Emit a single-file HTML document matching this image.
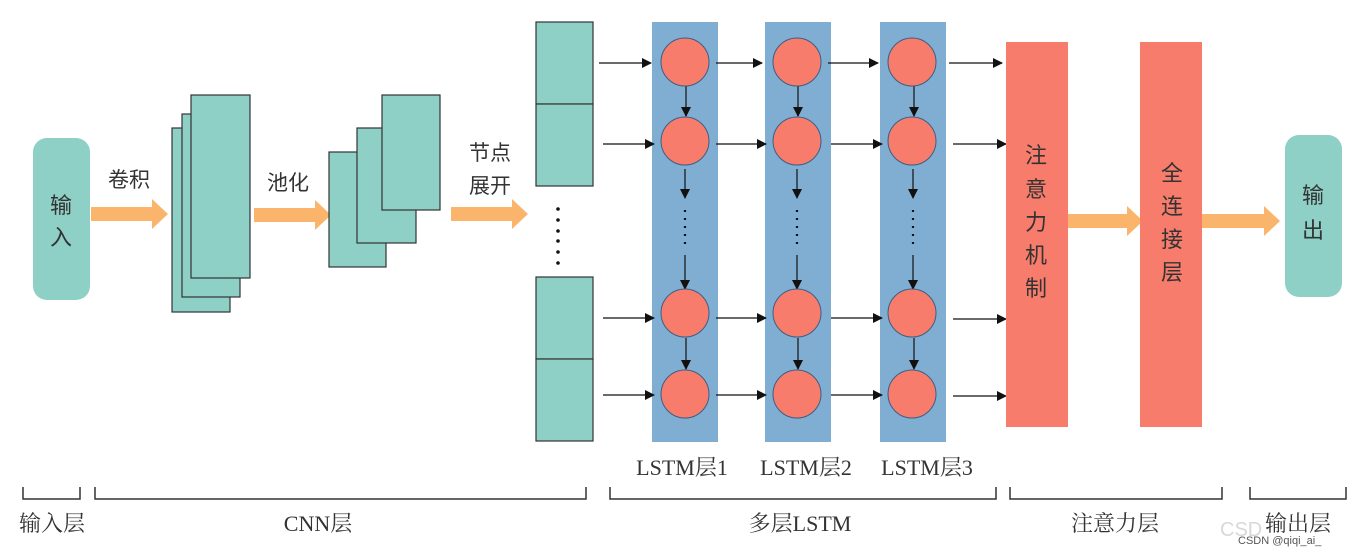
<!DOCTYPE html>
<html><head><meta charset="utf-8"><style>
html,body{margin:0;padding:0;background:#fff;}
svg{display:block;}
.cn{font-family:"Liberation Sans","Noto Sans CJK SC",sans-serif;fill:#333;}
.sf{font-family:"Liberation Serif","Noto Serif CJK SC",serif;fill:#333;}
</style></head><body>
<svg width="1351" height="555" viewBox="0 0 1351 555" xmlns="http://www.w3.org/2000/svg">
<defs>
<marker id="ah" markerWidth="10" markerHeight="10" refX="9" refY="5" orient="auto" markerUnits="userSpaceOnUse"><path d="M0,0 L10,5 L0,10 z" fill="#111"/></marker>
</defs>
<!-- input -->
<rect x="33" y="138" width="57" height="162" rx="14" fill="#8ecfc6"/>
<text class="cn" x="61" y="213" font-size="22" text-anchor="middle">输</text>
<text class="cn" x="61" y="245" font-size="22" text-anchor="middle">入</text>
<!-- orange arrows -->
<g fill="#fbb46c">
<path d="M91,207 H152 V199 L168,214 L152,229 V221 H91 Z"/>
<path d="M254,208 H315 V200 L331,215 L315,230 V222 H254 Z"/>
<path d="M451,207 H512 V199 L528,214 L512,229 V221 H451 Z"/>
<path d="M1068,214 H1127 V206 L1143,221 L1127,236 V228 H1068 Z"/>
<path d="M1202,214 H1264 V206 L1280,221 L1264,236 V228 H1202 Z"/>
</g>
<text class="cn" x="129" y="187" font-size="21" text-anchor="middle">卷积</text>
<text class="cn" x="288" y="190" font-size="21" text-anchor="middle">池化</text>
<text class="cn" x="490" y="160" font-size="21" text-anchor="middle">节点</text>
<text class="cn" x="490" y="193" font-size="21" text-anchor="middle">展开</text>
<!-- conv stack -->
<g fill="#8ecfc6" stroke="#333" stroke-width="1.2">
<rect x="172" y="128" width="58" height="184"/>
<rect x="182" y="114" width="58" height="183"/>
<rect x="191" y="95" width="59" height="183"/>
<rect x="329" y="152" width="57" height="115"/>
<rect x="357" y="128" width="59" height="115"/>
<rect x="382" y="95" width="58" height="115"/>
<!-- flattened -->
<rect x="536" y="22" width="57" height="82"/>
<rect x="536" y="104" width="57" height="82"/>
<rect x="536" y="277" width="57" height="82"/>
<rect x="536" y="359" width="57" height="82"/>
</g>
<g fill="#111">
<circle cx="558" cy="209" r="1.8"/><circle cx="558" cy="220" r="1.8"/><circle cx="558" cy="231" r="1.8"/><circle cx="558" cy="241" r="1.8"/><circle cx="558" cy="252" r="1.8"/><circle cx="558" cy="263" r="1.8"/>
</g>
<!-- LSTM columns -->
<g fill="#80aed3">
<rect x="652" y="22" width="66" height="420"/>
<rect x="765" y="22" width="66" height="420"/>
<rect x="880" y="22" width="66" height="420"/>
</g>
<g stroke="#111" stroke-width="1.2" marker-end="url(#ah)">
<!-- horizontal -->
<line x1="599" y1="63" x2="651" y2="63"/><line x1="716" y1="63" x2="762" y2="63"/><line x1="828" y1="63" x2="878" y2="63"/><line x1="949" y1="63" x2="1002" y2="63"/>
<line x1="603" y1="144" x2="654" y2="144"/><line x1="716" y1="144" x2="766" y2="144"/><line x1="831" y1="144" x2="882" y2="144"/><line x1="953" y1="144" x2="1006" y2="144"/>
<line x1="603" y1="318" x2="654" y2="318"/><line x1="716" y1="318" x2="766" y2="318"/><line x1="831" y1="318" x2="882" y2="318"/><line x1="953" y1="319" x2="1006" y2="319"/>
<line x1="603" y1="395" x2="654" y2="395"/><line x1="716" y1="395" x2="766" y2="395"/><line x1="831" y1="395" x2="882" y2="395"/><line x1="953" y1="396" x2="1006" y2="396"/>
</g>
<g stroke="#111" stroke-width="1.2" marker-end="url(#ah)">
<line x1="686" y1="86" x2="686" y2="116"/><line x1="798" y1="86" x2="798" y2="116"/><line x1="914" y1="86" x2="914" y2="116"/>
<line x1="685" y1="169" x2="685" y2="198"/><line x1="797" y1="169" x2="797" y2="198"/><line x1="913" y1="169" x2="913" y2="198"/>
<line x1="685" y1="255" x2="685" y2="289"/><line x1="797" y1="255" x2="797" y2="289"/><line x1="913" y1="255" x2="913" y2="289"/>
<line x1="686" y1="338" x2="686" y2="369"/><line x1="798" y1="338" x2="798" y2="369"/><line x1="914" y1="338" x2="914" y2="369"/>
</g>
<g stroke="#111" stroke-width="2.2" stroke-dasharray="2 6">
<line x1="685" y1="210" x2="685" y2="250"/><line x1="797" y1="210" x2="797" y2="250"/><line x1="913" y1="210" x2="913" y2="250"/>
</g>
<g fill="#f87c6b" stroke="#3a5f85" stroke-width="1">
<circle cx="685" cy="62" r="24"/><circle cx="797" cy="62" r="24"/><circle cx="912" cy="62" r="24"/>
<circle cx="685" cy="141" r="24"/><circle cx="797" cy="141" r="24"/><circle cx="912" cy="141" r="24"/>
<circle cx="685" cy="313" r="24"/><circle cx="797" cy="313" r="24"/><circle cx="912" cy="313" r="24"/>
<circle cx="685" cy="394" r="24"/><circle cx="797" cy="394" r="24"/><circle cx="912" cy="394" r="24"/>
</g>
<!-- attention / FC -->
<rect x="1006" y="42" width="62" height="385" fill="#f87c6b"/>
<rect x="1140" y="42" width="62" height="385" fill="#f87c6b"/>
<g class="cn" font-size="22" text-anchor="middle">
<text x="1036" y="163">注</text><text x="1036" y="197">意</text><text x="1036" y="230">力</text><text x="1036" y="263">机</text><text x="1036" y="296">制</text>
<text x="1172" y="181">全</text><text x="1172" y="214">连</text><text x="1172" y="247">接</text><text x="1172" y="280">层</text>
</g>
<rect x="1285" y="135" width="57" height="162" rx="14" fill="#8ecfc6"/>
<text class="cn" x="1313" y="203" font-size="22" text-anchor="middle">输</text>
<text class="cn" x="1313" y="238" font-size="22" text-anchor="middle">出</text>
<!-- LSTM labels -->
<g class="sf" font-size="22" text-anchor="middle">
<text x="682" y="475">LSTM层1</text><text x="806" y="475">LSTM层2</text><text x="927" y="475">LSTM层3</text>
</g>
<!-- brackets -->
<g fill="none" stroke="#333" stroke-width="1.5">
<path d="M23,487 V499 H80 V487"/>
<path d="M95,487 V499 H586 V487"/>
<path d="M610,487 V499 H996 V487"/>
<path d="M1010,487 V499 H1222 V487"/>
<path d="M1250,487 V499 H1346 V487"/>
</g>
<g class="sf" font-size="22" text-anchor="middle">
<text x="52" y="531">输入层</text>
<text x="318" y="531">CNN层</text>
<text x="800" y="531">多层LSTM</text>
<text x="1115" y="531">注意力层</text>
<text x="1298" y="531">输出层</text>
</g>
<text x="1220" y="536" font-family="Liberation Sans,sans-serif" font-size="20" fill="#c8c8c8" opacity="0.7">CSD</text>
<text x="1238" y="544" font-family="Liberation Sans,sans-serif" font-size="11" fill="#555">CSDN @qiqi_ai_</text>
</svg>
</body></html>
